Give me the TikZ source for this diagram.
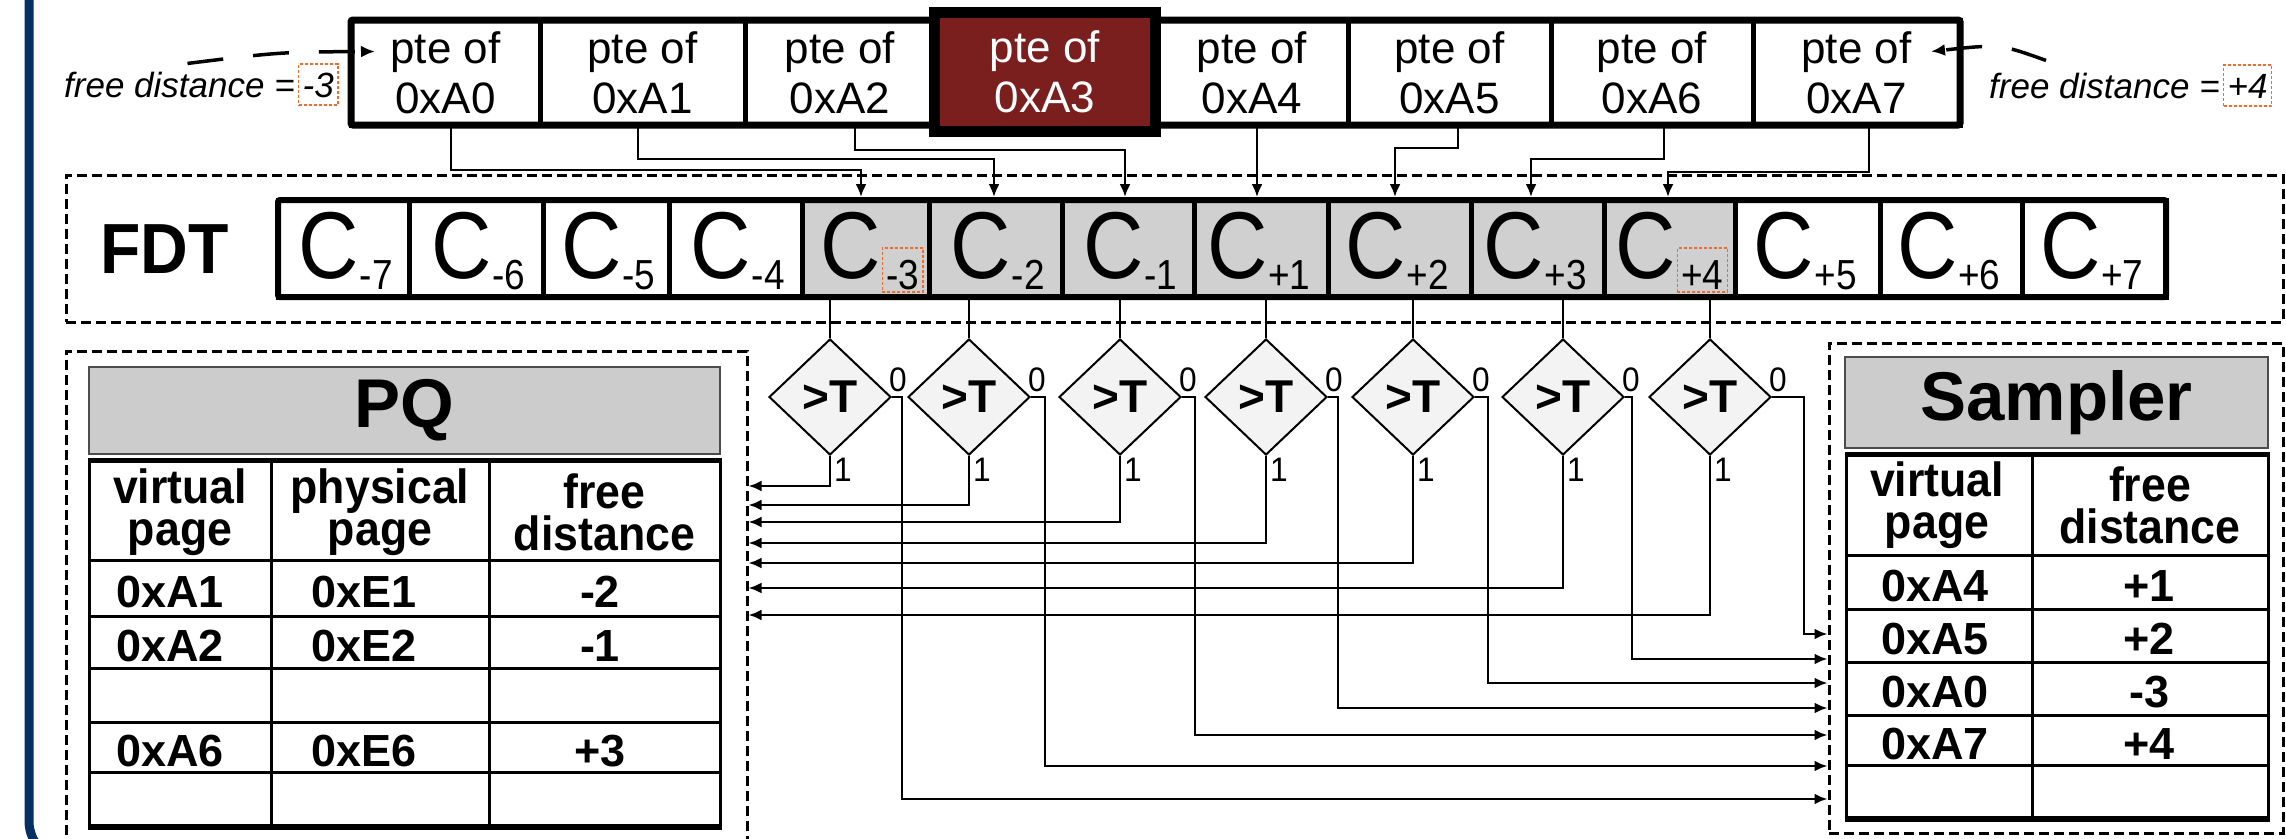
\documentclass[tikz,border=0pt]{standalone}
\usepackage{fontspec}
\setmainfont{Liberation Sans}
\newfontfamily\narrowsans[FakeStretch=0.93]{Liberation Sans}
\newfontfamily\glyphsans[FakeStretch=0.88]{Liberation Sans}
\usetikzlibrary{shapes.geometric,arrows.meta,calc}

\definecolor{framenavy}{RGB}{6,47,98}
\definecolor{hotpte}{RGB}{122,30,30}
\definecolor{headgray}{RGB}{204,204,204}
\definecolor{livegray}{RGB}{208,208,208}
\definecolor{cmpfill}{RGB}{243,243,243}
\definecolor{hilite}{RGB}{238,108,45}

\begin{document}
\begin{tikzpicture}[x=1pt, y=-1pt,
  ptebox/.style={draw, line width=5pt, minimum height=105pt, inner sep=0pt, outer sep=0pt,
                 align=center, font=\fontsize{44}{50}\selectfont},
  ccell/.style={draw, line width=5pt, minimum height=97pt, inner sep=0pt, outer sep=0pt},
  cglyph/.style={inner sep=0pt, font=\glyphsans\fontsize{95}{95}\selectfont},
  csub/.style={inner sep=0pt, font=\glyphsans\fontsize{42}{42}\selectfont},
  subbox/.style={csub, draw=hilite, line width=1.5pt, dash pattern=on 3pt off 2pt,
                 inner xsep=4pt, inner ysep=3pt, text height=38pt, text depth=0pt},
  region/.style={draw, line width=3pt, dash pattern=on 10pt off 5pt, inner sep=0pt},
  wire/.style={line width=2.5pt},
  arr/.style={wire, -{Latex[length=13pt,width=11pt]}},
  feed/.style={line width=2.2pt, -{Latex[length=13pt,width=11pt]}, shorten >=3pt},
  cmp/.style={diamond, draw, line width=2pt, fill=cmpfill, minimum width=122pt,
              minimum height=116pt, inner sep=0pt, font=\bfseries\fontsize{46}{46}\selectfont},
  bit/.style={inner sep=0pt, font=\narrowsans\fontsize{34}{34}\selectfont},
  headbox/.style={draw=black!70, line width=2pt, fill=headgray, inner sep=0pt,
                  font=\bfseries\fontsize{69}{69}\selectfont},
  thead/.style={align=center, inner sep=0pt, font=\narrowsans\bfseries\fontsize{48}{42}\selectfont},
  tcell/.style={anchor=base, inner sep=0pt, font=\bfseries\fontsize{45}{45}\selectfont},
  tline/.style={line width=3pt},
  tedge/.style={line width=5.5pt},
  fdtext/.style={inner sep=0pt, font=\itshape\fontsize{35}{35}\selectfont},
  fdbox/.style={fdtext, draw=hilite, line width=1.5pt, dash pattern=on 3pt off 2pt,
                inner xsep=4pt, inner ysep=8pt, text height=25pt, text depth=0pt},
  fdarrow/.style={line width=3.5pt, dash pattern=on 36pt off 30pt,
                  -{Latex[length=14pt,width=12pt]}}
]
\useasboundingbox (0,0) rectangle (2286,838);

% enclosing frame (left side and lower corner)
\draw[framenavy, line width=9pt, rounded corners=40pt] (29,-40) -- (29,861) -- (2500,861);

% dashed regions
\node[region, minimum width=2217pt, minimum height=147pt] (fdtbox) at (1174.5,248.5) {};
\node[region, minimum width=681pt, minimum height=519pt] (pqbox) at (406.5,610.5) {};
\node[region, minimum width=454pt, minimum height=490pt] (smpbox) at (2056,588) {};

% page table entries
\foreach \l/\r/\n/\t in {351/540/pA0/0xA0, 540/745/pA1/0xA1, 745/934.5/pA2/0xA2,
    1155.5/1348/pA4/0xA4, 1348/1551/pA5/0xA5, 1551/1753/pA6/0xA6, 1753/1960/pA7/0xA7}
  \node[ptebox, minimum width={\r-\l}] (\n) at ({(\l+\r)/2},72.5) {pte of\\\t};
\draw[line width=7pt, rounded corners=2pt] (351,20) rectangle (1960,125);
\node[ptebox, fill=hotpte, text=white, line width=11pt, minimum width=221pt,
      minimum height=119pt] (pA3) at (1045,72) {pte of\\0xA3};

% free distance table
\node[inner sep=0pt, anchor=base, font=\narrowsans\bfseries\fontsize{71}{71}\selectfont] (fdt) at (164.5,273) {FDT};
\foreach \l/\r/\n/\s/\f/\d/\st in {
   278/409/cm7/-7/white/16/csub,
   409/543/cm6/-6/white/16/csub,
   543/669/cm5/-5/white/16/csub,
   669/802/cm4/-4/white/16/csub,
   802/929/cm3/-3/livegray/16/subbox,
   929/1062/cm2/-2/livegray/16/csub,
   1062/1194/cm1/-1/livegray/16/csub,
   1194/1328/cp1/+1/livegray/7/csub,
   1328/1471/cp2/+2/livegray/7/csub,
   1471/1604/cp3/+3/livegray/7/csub,
   1604/1735/cp4/+4/livegray/7/subbox,
   1735/1880/cp5/+5/white/7/csub,
   1880/2022/cp6/+6/white/7/csub,
   2022/2166/cp7/+7/white/7/csub}
{
  \node[ccell, fill=\f, minimum width={\r-\l}] (\n) at ({(\l+\r)/2},248.5) {};
  \node[cglyph, anchor=base east] (g\n) at ({(\l+\r)/2+\d},278) {C};
  \node[\st, anchor=base west] (s\n) at ([yshift=-11pt]g\n.base east) {\s};
}
\draw[line width=6pt, rounded corners=2pt] (278,200) rectangle (2166,297);

% entries feeding the counters
\draw[feed] ([xshift=5.5pt]pA0.south) -- ++(0,45) -| ([xshift=-4.5pt]cm3.north);
\draw[feed] ([xshift=-4.5pt]pA1.south) -- ++(0,34) -| ([xshift=-1.5pt]cm2.north);
\draw[feed] ([xshift=15pt]pA2.south) -- ++(0,25) -| ([xshift=-3pt]cm1.north);
\draw[feed] ([xshift=5.25pt]pA4.south) -- ([xshift=-4pt]cp1.north);
\draw[feed] ([xshift=8.5pt]pA5.south) -- ++(0,23) -| ([xshift=-4.5pt]cp2.north);
\draw[feed] ([xshift=12pt]pA6.south) -- ++(0,34) -| ([xshift=-6.5pt]cp3.north);
\draw[feed] ([xshift=12.5pt]pA7.south) -- ++(0,47) -| ([xshift=-1.5pt]cp4.north);

% threshold comparators
\foreach \n/\x in {d1/830, d2/969, d3/1120, d4/1266, d5/1413, d6/1563, d7/1710}
  \node[cmp] (\n) at (\x,397) {>T};
\foreach \c/\n in {cm3/d1, cm2/d2, cm1/d3, cp1/d4, cp2/d5, cp3/d6, cp4/d7}
  \draw[line width=2pt] (\n.north |- \c.south) -- (\n.north);
\foreach \n in {d1,d2,d3,d4,d5,d6,d7} {
  \node[bit, anchor=south west] at ([xshift=-3pt,yshift=5pt]\n.east) {0};
  \node[bit, anchor=north west] at ([xshift=4pt,yshift=-2pt]\n.south) {1};
}
\foreach \n/\y in {d1/486, d2/505, d3/522, d4/543, d5/563, d6/588, d7/615}
  \draw[arr] (\n.south) |- (pqbox.east |- 0,\y);
\foreach \n/\o/\y in {d1/10/799, d2/14/766, d3/13/735, d4/10/708, d5/13/683, d6/7/659, d7/32/634}
  \draw[arr] (\n.east) -- ++(\o,0) |- (smpbox.west |- 0,\y);

% PQ table
\node[headbox, minimum width=631pt, minimum height=87pt] (pqhead) at (404.5,410.5) {PQ};
\draw[tline] (89,460.5) -- (89,827) (720,460.5) -- (720,827)
             (271,460.5) -- (271,827) (489,460.5) -- (489,827);
\foreach \y in {560,616,668,722,772}
  \draw[tline] (89,\y) -- (720,\y);
\draw[tedge] (87.5,460.5) -- (721.5,460.5) (87.5,827) -- (721.5,827);
\node[thead] at (180,512) {virtual\\page};
\node[thead] at (380,512) {physical\\page};
\node[thead] at (604.5,512) {free\\distance};
\foreach \y/\a/\b/\c in {607/0xA1/0xE1/-2, 661/0xA2/0xE2/-1, 766/0xA6/0xE6/+3} {
  \node[tcell] at (170,\y) {\a};
  \node[tcell] at (364,\y) {\b};
  \node[tcell] at (600,\y) {\c};
}

% Sampler table
\node[headbox, minimum width=423pt, minimum height=91pt] (smphead) at (2056.5,402.5) {Sampler};
\draw[tline] (1846,454.5) -- (1846,819) (2268,454.5) -- (2268,819) (2032,454.5) -- (2032,819);
\foreach \y in {555,609,662,715,765}
  \draw[tline] (1846,\y) -- (2268,\y);
\draw[tedge] (1844.5,454.5) -- (2269.5,454.5) (1844.5,819) -- (2269.5,819);
\node[thead] at (1937,505) {virtual\\page};
\node[thead] at (2150,505) {free\\distance};
\foreach \y/\a/\c in {601/0xA4/+1, 654/0xA5/+2, 707/0xA0/-3, 759/0xA7/+4} {
  \node[tcell] at (1935,\y) {\a};
  \node[tcell] at (2149,\y) {\c};
}

% free distance callouts
\node[fdtext, anchor=base west] (fdl) at (64,97) {free distance =};
\node[fdbox, anchor=base west] (fdlv) at ([xshift=3pt]fdl.base east) {-3};
\node[fdtext, anchor=base west] (fdr) at (1989,98) {free distance =};
\node[fdbox, anchor=base west] (fdrv) at ([xshift=3pt]fdr.base east) {+4};
\draw[fdarrow] ([xshift=8pt,yshift=8pt]fdl.north) .. controls (280,52) .. ([xshift=24pt,yshift=21pt]pA0.west);
\draw[fdarrow] ([xshift=57pt,yshift=12pt]fdr.north west) .. controls (2000,44) .. ([xshift=-29pt,yshift=21pt]pA7.east);
\end{tikzpicture}
\end{document}
